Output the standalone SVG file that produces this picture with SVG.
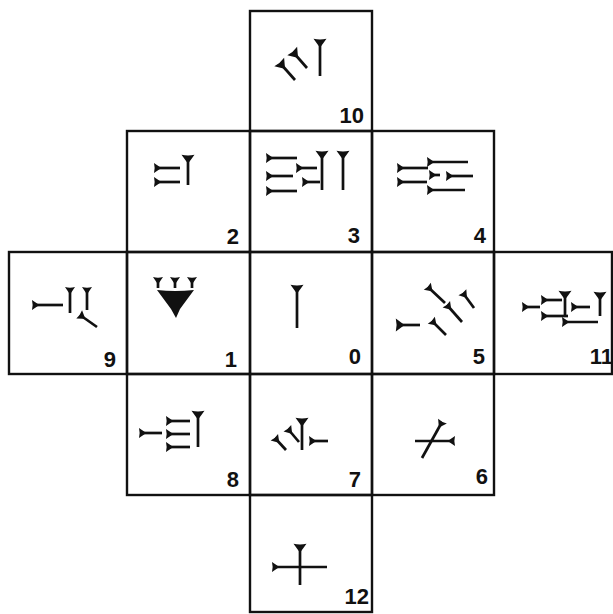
<svg xmlns="http://www.w3.org/2000/svg" xmlns:xlink="http://www.w3.org/1999/xlink" width="613" height="614" viewBox="0 0 613 614">
<style>
.cell{fill:none;stroke:#111;stroke-width:2.4}
.lbl{font-family:"Liberation Sans",Arial,sans-serif;font-weight:bold;font-size:22px;fill:#111;text-anchor:end}
.s{stroke:#111;stroke-width:2.7;fill:none}
.h{fill:#111}
</style>
<defs>
<path id="hd" class="h" d="M-6.5,-1.2 Q0,0.4 6.5,-1.2 L1.6,5.5 L0,7.5 L-1.6,5.5 Z"/>
<path id="hs" class="h" d="M-5,-1 Q0,0.3 5,-1 L1.3,4.5 L0,6 L-1.3,4.5 Z"/>
</defs>
<rect width="613" height="614" fill="#fff"/>

<g id="connectors"/>

<g id="n10">
<rect class="cell" x="250" y="11" width="122" height="120"/>
<line class="s" x1="320" y1="40" x2="320" y2="76"/><use href="#hd" transform="translate(320,40)"/>
<line class="s" x1="280" y1="63" x2="295" y2="80"/><use href="#hd" transform="translate(280,63) rotate(-41)"/>
<line class="s" x1="293" y1="52" x2="307" y2="68"/><use href="#hd" transform="translate(293,52) rotate(-41)"/>
<text class="lbl" x="364" y="123">10</text>
</g>

<g id="n2">
<rect class="cell" x="127" y="131" width="123" height="121"/>
<line class="s" x1="155" y1="168" x2="180" y2="168"/><use href="#hs" transform="translate(155,168) rotate(-90)"/>
<line class="s" x1="155" y1="182" x2="180" y2="182"/><use href="#hs" transform="translate(155,182) rotate(-90)"/>
<line class="s" x1="188" y1="156" x2="188" y2="185"/><use href="#hd" transform="translate(188,156)"/>
<text class="lbl" x="239" y="244">2</text>
</g>

<g id="n3">
<rect class="cell" x="250" y="131" width="122" height="121"/>
<line class="s" x1="267" y1="158" x2="297" y2="158"/><use href="#hs" transform="translate(267,158) rotate(-90)"/>
<line class="s" x1="267" y1="176" x2="293" y2="176"/><use href="#hs" transform="translate(267,176) rotate(-90)"/>
<line class="s" x1="267" y1="191" x2="297" y2="191"/><use href="#hs" transform="translate(267,191) rotate(-90)"/>
<line class="s" x1="297" y1="168" x2="317" y2="168"/><use href="#hs" transform="translate(297,168) rotate(-90)"/>
<line class="s" x1="303" y1="182" x2="320" y2="182"/><use href="#hs" transform="translate(303,182) rotate(-90)"/>
<line class="s" x1="322" y1="152" x2="322" y2="190"/><use href="#hd" transform="translate(322,152)"/>
<line class="s" x1="343" y1="152" x2="343" y2="190"/><use href="#hd" transform="translate(343,152)"/>
<text class="lbl" x="360" y="243">3</text>
</g>

<g id="n4">
<rect class="cell" x="372" y="131" width="122" height="121"/>
<line class="s" x1="428" y1="162" x2="468" y2="162"/><use href="#hs" transform="translate(428,162) rotate(-90)"/>
<line class="s" x1="398" y1="168" x2="428" y2="168"/><use href="#hs" transform="translate(398,168) rotate(-90)"/>
<line class="s" x1="430" y1="175" x2="440" y2="175"/><use href="#hs" transform="translate(430,175) rotate(-90)"/>
<line class="s" x1="447" y1="176" x2="473" y2="176"/><use href="#hs" transform="translate(447,176) rotate(-90)"/>
<line class="s" x1="398" y1="182" x2="427" y2="182"/><use href="#hs" transform="translate(398,182) rotate(-90)"/>
<line class="s" x1="428" y1="190" x2="465" y2="190"/><use href="#hs" transform="translate(428,190) rotate(-90)"/>
<text class="lbl" x="486" y="243">4</text>
</g>

<g id="n9">
<rect class="cell" x="9" y="252" width="118" height="122"/>
<line class="s" x1="33" y1="305" x2="63" y2="305"/><use href="#hs" transform="translate(33,305) rotate(-90)"/>
<line class="s" x1="70" y1="288" x2="70" y2="313"/><use href="#hs" transform="translate(70,288)"/>
<line class="s" x1="87" y1="288" x2="87" y2="310"/><use href="#hs" transform="translate(87,288)"/>
<line class="s" x1="80" y1="315" x2="97" y2="327"/><use href="#hs" transform="translate(80,315) rotate(-55)"/>
<text class="lbl" x="116" y="367">9</text>
</g>

<g id="n1">
<rect class="cell" x="127" y="252" width="123" height="122"/>
<line class="s" x1="158" y1="278" x2="158" y2="288"/><use href="#hs" transform="translate(158,278)"/>
<line class="s" x1="175" y1="278" x2="175" y2="288"/><use href="#hs" transform="translate(175,278)"/>
<line class="s" x1="192" y1="278" x2="192" y2="288"/><use href="#hs" transform="translate(192,278)"/>
<path class="h" d="M157,290 Q175,292 194,290 L180,309 L176,318 L171,309 Z"/>
<text class="lbl" x="237" y="367">1</text>
</g>

<g id="n0">
<rect class="cell" x="250" y="252" width="122" height="122"/>
<line class="s" x1="297" y1="286" x2="297" y2="328"/><use href="#hd" transform="translate(297,286)"/>
<text class="lbl" x="361" y="364">0</text>
</g>

<g id="n5">
<rect class="cell" x="372" y="252" width="122" height="122"/>
<line class="s" x1="397" y1="325" x2="420" y2="325"/><use href="#hd" transform="translate(397,325) rotate(-90)"/>
<line class="s" x1="428" y1="287" x2="445" y2="303"/><use href="#hs" transform="translate(428,287) rotate(-45)"/>
<line class="s" x1="463" y1="293" x2="474" y2="308"/><use href="#hs" transform="translate(463,293) rotate(-38)"/>
<line class="s" x1="447" y1="305" x2="462" y2="322"/><use href="#hs" transform="translate(447,305) rotate(-42)"/>
<line class="s" x1="432" y1="321" x2="446" y2="335"/><use href="#hs" transform="translate(432,321) rotate(-45)"/>
<text class="lbl" x="485" y="364">5</text>
</g>

<g id="n11">
<rect class="cell" x="494" y="252" width="118" height="122"/>
<line class="s" x1="523" y1="307" x2="540" y2="307"/><use href="#hs" transform="translate(523,307) rotate(-90)"/>
<line class="s" x1="542" y1="300" x2="562" y2="300"/><use href="#hs" transform="translate(542,300) rotate(-90)"/>
<line class="s" x1="565" y1="292" x2="565" y2="315"/><use href="#hd" transform="translate(565,292)"/>
<line class="s" x1="572" y1="307" x2="590" y2="307"/><use href="#hs" transform="translate(572,307) rotate(-90)"/>
<line class="s" x1="600" y1="293" x2="600" y2="316"/><use href="#hd" transform="translate(600,293)"/>
<line class="s" x1="542" y1="316" x2="568" y2="316"/><use href="#hs" transform="translate(542,316) rotate(-90)"/>
<line class="s" x1="563" y1="322" x2="598" y2="322"/><use href="#hs" transform="translate(563,322) rotate(-90)"/>
<text class="lbl" x="613" y="364">11</text>
</g>

<g id="n8">
<rect class="cell" x="127" y="374" width="123" height="121"/>
<line class="s" x1="140" y1="433" x2="162" y2="433"/><use href="#hs" transform="translate(140,433) rotate(-90)"/>
<line class="s" x1="167" y1="421" x2="190" y2="421"/><use href="#hs" transform="translate(167,421) rotate(-90)"/>
<line class="s" x1="167" y1="434" x2="190" y2="434"/><use href="#hs" transform="translate(167,434) rotate(-90)"/>
<line class="s" x1="167" y1="447" x2="190" y2="447"/><use href="#hs" transform="translate(167,447) rotate(-90)"/>
<line class="s" x1="198" y1="412" x2="198" y2="447"/><use href="#hd" transform="translate(198,412)"/>
<text class="lbl" x="239" y="487">8</text>
</g>

<g id="n7">
<rect class="cell" x="250" y="374" width="122" height="121"/>
<line class="s" x1="275" y1="438" x2="286" y2="450"/><use href="#hs" transform="translate(275,438) rotate(-42)"/>
<line class="s" x1="288" y1="429" x2="299" y2="442"/><use href="#hs" transform="translate(288,429) rotate(-40)"/>
<line class="s" x1="302" y1="419" x2="302" y2="450"/><use href="#hd" transform="translate(302,419)"/>
<line class="s" x1="310" y1="441" x2="328" y2="441"/><use href="#hs" transform="translate(310,441) rotate(-90)"/>
<text class="lbl" x="361" y="487">7</text>
</g>

<g id="n6">
<rect class="cell" x="372" y="374" width="122" height="121"/>
<line class="s" x1="415" y1="441" x2="454" y2="441"/><use href="#hs" transform="translate(454,441) rotate(90)"/>
<line class="s" x1="442" y1="422" x2="422" y2="458"/><use href="#hs" transform="translate(442,422) rotate(29)"/>
<text class="lbl" x="488" y="484">6</text>
</g>

<g id="n12">
<rect class="cell" x="250" y="495" width="122" height="117"/>
<line class="s" x1="300" y1="545" x2="300" y2="585"/><use href="#hd" transform="translate(300,545)"/>
<line class="s" x1="273" y1="567" x2="327" y2="567"/><use href="#hs" transform="translate(273,567) rotate(-90)"/>
<text class="lbl" x="369" y="604">12</text>
</g>
</svg>
